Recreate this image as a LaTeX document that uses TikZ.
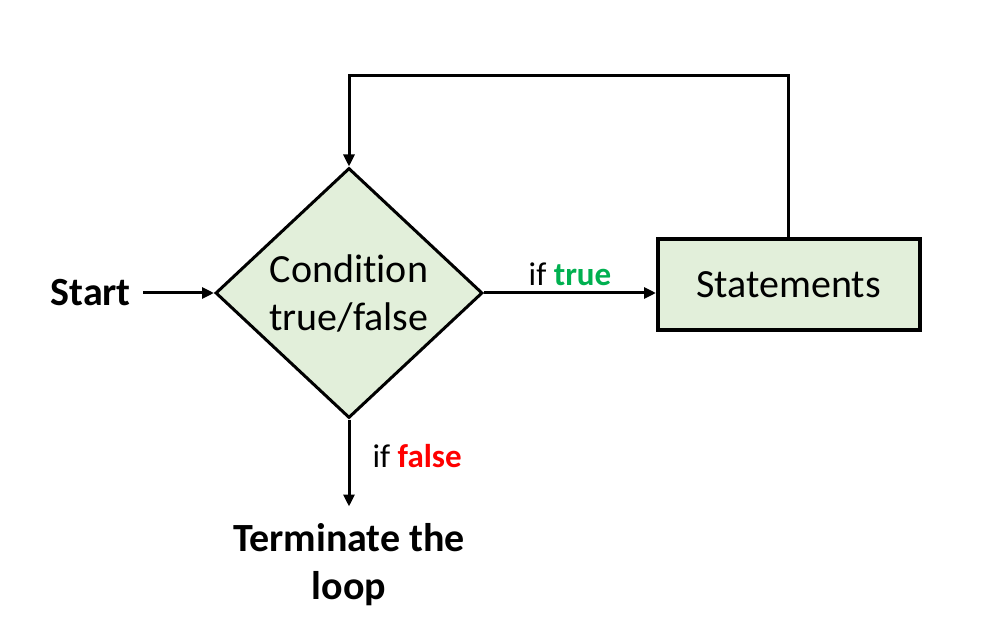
\documentclass[tikz,border=0pt]{standalone}
\usepackage{fontspec}
\setmainfont{Carlito}[Ligatures=NoCommon]
\usetikzlibrary{shapes.geometric,arrows.meta,positioning}

\definecolor{boxgreen}{RGB}{226,239,218}
\definecolor{truegreen}{RGB}{0,176,80}
\definecolor{falsered}{RGB}{255,0,0}

\begin{document}
\begin{tikzpicture}[x=1pt, y=-1pt, >={Triangle[length=12pt,width=11pt]},
    cond/.style={diamond, draw, line width=3pt, fill=boxgreen, aspect=1.07, inner sep=0pt,
        minimum width=267pt, minimum height=250pt, align=center, font=\fontsize{40}{48}\selectfont},
    stmt/.style={rectangle, draw, line width=3.5pt, fill=boxgreen, minimum width=262pt,
        minimum height=91pt, font=\fontsize{40}{48}\selectfont},
    term/.style={inner sep=0pt, align=center, font=\fontsize{40}{48}\selectfont\bfseries},
    lbl/.style={inner sep=2pt, font=\fontsize{33}{38}\selectfont},
    ar/.style={line width=3pt,->}]
    \useasboundingbox (0,0) rectangle (986,631);
    \node [cond] (cond) at (349,293) {Condition\\true/false};
    \node [term, inner xsep=12pt, left=71pt of cond] (start) {Start};
    \node [stmt, right=172pt of cond, yshift=8.5pt] (stmt) {Statements};
    \node [term, below=104pt of cond] (stop) {Terminate the\\loop};
    \draw [ar] (start) -- (cond);
    \draw [ar] (cond.east) -- node[lbl, above=4pt]{if \textbf{\color{truegreen}true}} (cond.east -| stmt.west);
    \draw [ar] (cond.south) -- node[lbl, right=20pt, pos=0.42]{if \textbf{\color{falsered}false}} ([yshift=17pt]stop.north);
    \draw [ar] (stmt.north) -- ++(0,-162) -| (cond.north);
\end{tikzpicture}
\end{document}
